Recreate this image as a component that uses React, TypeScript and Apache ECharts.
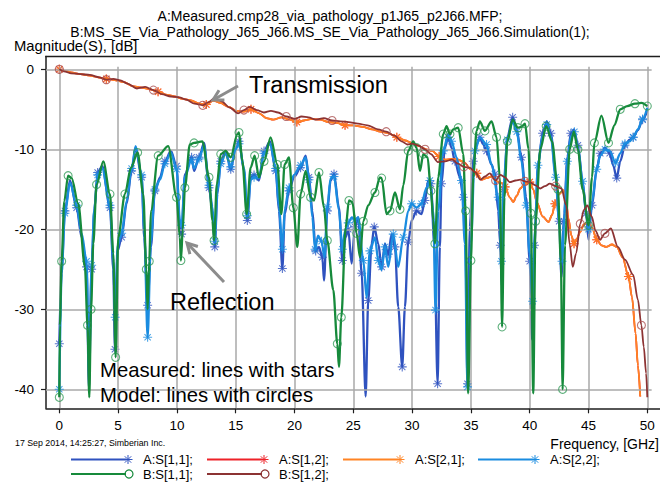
import { useEffect, useRef } from "react";
import * as echarts from "echarts";

const FONT = "'Liberation Sans', Arial, Helvetica, sans-serif";

const TITLE_A = "A:Measured.cmp28_via_pathology_p1J65_p2J66.MFP;";
const TITLE_B = "B:MS_SE_Via_Pathology_J65_J66.MS_SE_Via_Pathology_J65_J66.Simulation(1);";
const Y_NAME = "Magnitude(S), [dB]";
const X_NAME = "Frequency, [GHz]";
const FOOTER = "17 Sep 2014, 14:25:27, Simberian Inc.";

const X_TICKS = [0, 5, 10, 15, 20, 25, 30, 35, 40, 45, 50];
const Y_TICKS = [0, -10, -20, -30, -40];

const LEGEND_NAMES = ["A:S[1,1];", "A:S[1,2];", "A:S[2,1];", "A:S[2,2];", "B:S[1,1];", "B:S[1,2];"];

// A:S[1,1] measured reflection
const A_S11: [number, number][] = [
  [0, -34.3], [0.2, -25], [0.48, -17.7], [0.91, -13.9], [1.47, -17.3], [1.9, -21], [2.32, -24.7], [2.52, -40],
  [2.75, -25], [2.97, -17.7], [3.26, -12.9], [3.65, -12.1], [4.31, -17.3], [4.59, -25], [4.73, -35], [4.96, -22.7],
  [5.3, -21], [5.72, -16.8], [6.15, -12.7], [6.49, -9.8], [7.0, -13.5], [7.22, -21], [7.51, -29.5], [7.79, -22.2],
  [8.13, -15.2], [8.56, -13.5], [8.98, -11.5], [9.49, -10.2], [9.97, -12.1], [10.25, -19.8], [10.4, -20.6],
  [10.68, -13.1], [11.25, -11], [11.46, -12.7], [11.88, -11], [12.31, -9.2], [12.73, -14.8], [13.02, -17.7],
  [13.22, -22.2], [13.44, -15.6], [13.73, -11.5], [14.15, -10.2], [14.58, -12.5], [15.0, -9.8], [15.28, -9],
  [15.71, -12.7], [15.99, -18.9], [16.28, -13.5], [16.56, -13.2], [16.98, -13.9], [17.41, -10.2], [17.92, -9],
  [18.4, -12.7], [18.68, -17.7], [18.97, -24.9], [19.17, -18.1], [19.53, -15.2], [19.96, -13.5], [20.52, -12.3],
  [20.95, -10.8], [21.23, -13.5], [21.52, -17.7], [21.8, -22.7], [22.08, -22.2], [22.37, -23.5], [22.51, -26.4],
  [22.79, -17.7], [23.07, -13.9], [23.36, -13.1], [23.78, -17.3], [24.07, -23.9], [24.35, -21], [24.57, -20],
  [24.86, -24.3], [25.14, -19.7], [25.42, -18.5], [25.71, -25.5], [26.05, -40.9], [26.27, -28.9], [26.56, -21.8],
  [26.78, -19.7], [27.12, -21.8], [27.41, -24.7], [27.69, -21.8], [27.97, -23.1], [28.26, -20.6], [28.54, -22.2],
  [28.82, -29.7], [29.16, -37.2], [29.39, -29.7], [29.67, -21.6], [29.96, -18.9], [30.38, -17.7], [30.8, -18.1],
  [31.09, -16.4], [31.37, -13.9], [31.6, -14.3], [31.88, -21.8], [32.17, -39.3], [32.36, -22.2], [32.5, -14.3],
  [32.79, -9.8], [33.07, -8.5], [33.35, -9.8], [33.64, -11.5], [34.06, -13.5], [34.35, -16], [34.54, -21.8],
  [34.71, -39.3], [34.91, -19.7], [35.2, -11.5], [35.48, -9.4], [35.76, -8.5], [36.05, -9.4], [36.33, -10.2],
  [36.75, -11.9], [37.04, -13.1], [37.32, -17.7], [37.5, -22], [37.62, -27], [37.8, -15], [38.1, -8.5],
  [38.55, -6.0], [38.9, -7.5], [39.3, -11], [39.7, -16], [40.0, -24], [40.2, -33.8], [40.4, -22], [40.7, -12],
  [41.1, -8], [41.45, -6.5], [41.8, -8], [42.2, -13], [42.5, -19], [42.7, -26], [42.9, -19], [43.2, -11],
  [43.5, -8], [43.77, -7.5], [44.1, -9.5], [44.5, -14], [44.8, -18], [45.0, -21.3], [45.3, -17], [45.7, -12.5],
  [46.0, -10.5], [46.4, -9.8], [46.8, -10.5], [47.1, -12], [47.4, -13.6], [47.7, -11.5], [48.1, -9.5],
  [48.5, -8.8], [48.8, -8.5], [49.2, -7.6], [49.6, -6.3], [50.0, -5.2],
];

// A:S[2,1] measured transmission
const A_S21: [number, number][] = [
  [0, 0], [0.5, -0.2], [1.0, -0.4], [1.8, -0.6], [2.6, -0.8], [3.3, -1.0], [4.0, -1.2], [4.9, -1.4], [5.5, -1.6],
  [6.2, -2.1], [7.0, -2.3], [7.7, -2.5], [8.4, -2.8], [9.2, -3.2], [9.8, -3.4], [10.5, -3.7], [11.2, -3.9],
  [11.9, -4.3], [12.5, -4.4], [13.1, -3.9], [13.7, -4.2], [14.4, -4.7], [15.1, -5.2], [15.7, -5.3], [16.3, -5.0],
  [17.0, -5.5], [17.6, -6.1], [18.2, -6.3], [18.9, -6.0], [19.6, -6.3], [20.2, -6.6], [20.8, -6.4], [21.5, -6.2],
  [22.2, -6.3], [22.9, -6.6], [23.6, -6.7], [24.3, -7.0], [25.0, -7.0], [25.8, -7.2], [26.6, -7.5], [27.3, -7.8],
  [28.0, -8.0], [28.7, -8.5], [29.4, -8.9], [30.0, -9.2], [30.6, -9.6], [31.2, -10.0], [31.7, -10.2],
  [32.3, -10.9], [32.8, -11.3], [33.4, -11.2], [33.9, -11.3], [34.4, -11.6], [35.0, -12.5], [35.5, -13.0],
  [35.9, -13.8], [36.3, -13.6], [36.75, -13.4], [37.2, -14.0], [37.6, -14.2], [37.9, -14.7], [38.3, -16.0],
  [38.6, -16.6], [38.9, -15.8], [39.2, -14.9], [39.6, -14.3], [40.0, -14.1], [40.3, -15.0], [40.6, -16.6],
  [41.1, -18.4], [41.6, -19.1], [41.9, -18.2], [42.15, -16.8], [42.5, -15.6], [42.86, -15.1], [43.1, -16.5],
  [43.3, -18.7], [43.55, -20.8], [43.77, -21.8], [44.0, -21.2], [44.3, -20.3], [44.6, -19.4], [45.0, -19.0],
  [45.3, -19.8], [45.7, -21.3], [46.1, -22.0], [46.5, -22.2], [47.0, -21.9], [47.4, -22.2], [47.9, -23.5],
  [48.4, -25.9], [48.7, -28.5], [49.0, -33.0], [49.2, -37], [49.4, -40.9],
];

// A:S[1,2] measured transmission (reciprocal, overlaps S[2,1])
const A_S12: [number, number][] = A_S21.map(([f, v]) => [f, v]);

// A:S[2,2] measured reflection
const A_S22: [number, number][] = [
  [0, -40], [0.2, -25.5], [0.48, -18], [0.91, -14.2], [1.47, -17], [1.9, -20.5], [2.32, -24], [2.52, -38],
  [2.75, -24.5], [2.97, -17.5], [3.26, -13.2], [3.65, -12.4], [4.31, -17], [4.59, -24], [4.75, -31], [4.96, -22],
  [5.3, -20.5], [5.72, -16.5], [6.15, -12.4], [6.49, -9.6], [7.0, -13.2], [7.22, -20], [7.51, -33.5], [7.79, -21.5],
  [8.13, -15], [8.56, -13.8], [8.98, -11.8], [9.49, -10.4], [9.97, -12.5], [10.25, -18.8], [10.4, -19.5],
  [10.68, -13.4], [11.25, -11.3], [11.46, -12.4], [11.88, -11.2], [12.31, -9.5], [12.73, -14.5], [13.02, -17.2],
  [13.22, -21.5], [13.44, -15.3], [13.73, -11.8], [14.15, -10.5], [14.58, -12.2], [15.0, -10.0], [15.28, -9.3],
  [15.71, -12.4], [15.99, -18.3], [16.28, -13.8], [16.56, -13.5], [16.98, -13.6], [17.41, -10.5], [17.92, -9.3],
  [18.4, -12.4], [18.68, -17.2], [18.97, -22.5], [19.17, -17.5], [19.53, -14.8], [19.96, -13.2], [20.52, -12.0],
  [20.95, -11.0], [21.23, -13.8], [21.52, -18.5], [21.75, -22.5], [22.0, -20.8], [22.3, -21.5], [22.55, -23.5],
  [22.79, -17.2], [23.07, -13.6], [23.36, -13.4], [23.78, -17.6], [24.07, -22.5], [24.29, -20.2], [24.57, -19.2],
  [24.86, -18.5], [25.14, -18.8], [25.42, -18.5], [25.85, -23.9], [26.13, -28.5], [26.41, -22.7], [26.84, -21],
  [27.12, -23.9], [27.41, -25.1], [27.69, -22.2], [27.97, -24.7], [28.4, -20.6], [28.82, -24.7], [29.25, -21],
  [29.67, -17.7], [29.96, -16.8], [30.38, -17.3], [30.8, -16.8], [31.23, -14.8], [31.51, -13.9], [31.8, -17.7],
  [31.99, -30.1], [32.22, -17.7], [32.65, -10.2], [33.07, -8.1], [33.35, -9], [33.78, -11], [34.2, -13.9],
  [34.49, -21.8], [34.71, -39.7], [35.0, -21.8], [35.34, -10.2], [35.76, -8.5], [36.33, -9.4], [36.75, -11.9],
  [37.32, -16], [37.46, -19], [37.6, -24], [37.8, -14], [38.1, -8.8], [38.55, -6.5], [38.9, -7.8], [39.3, -11.5],
  [39.7, -17], [40.0, -23], [40.25, -29], [40.45, -20], [40.7, -12], [41.1, -8.3], [41.45, -6.9], [41.8, -8.4],
  [42.2, -13.5], [42.5, -19], [42.75, -24], [42.95, -18], [43.2, -11.5], [43.5, -8.4], [43.8, -7.8], [44.1, -9.8],
  [44.5, -14], [44.8, -18], [45.0, -20], [45.3, -16.5], [45.7, -12.5], [46.0, -10.8], [46.4, -10], [46.8, -10.2],
  [47.3, -11.7], [47.7, -10.5], [48.1, -9.3], [48.5, -9.0], [48.8, -8.5], [49.2, -7.5], [49.6, -6.2], [50.0, -4.8],
];

// B:S[1,1] model reflection
const B_S11: [number, number][] = [
  [0, -41], [0.05, -32], [0.2, -24], [0.42, -16.5], [0.75, -13.3], [1.05, -13.6], [1.61, -16.8], [2.18, -24.7],
  [2.4, -32], [2.55, -41], [2.7, -30], [2.89, -21.8], [3.17, -14.4], [3.74, -11.5], [4.31, -15.6], [4.59, -23],
  [4.79, -36], [5.01, -21], [5.58, -15.6], [6.09, -12.3], [6.66, -10.4], [7.14, -15.6], [7.4, -25], [7.51, -30],
  [7.65, -24], [7.79, -17.7], [8.41, -10.8], [9.26, -9.6], [9.97, -16], [10.25, -21], [10.34, -23.9], [10.5, -20],
  [10.68, -14.8], [11.1, -9.4], [11.46, -9.2], [12.17, -9], [12.73, -13.5], [13.02, -18.9], [13.16, -21.4],
  [13.39, -14.4], [13.73, -10.6], [14.15, -10.2], [14.58, -11], [15.14, -8.1], [15.28, -7.9], [15.57, -11.5],
  [15.93, -18.1], [16.27, -12.3], [16.61, -10.8], [16.98, -13.5], [17.41, -11.5], [17.97, -8.5], [18.54, -11.9],
  [18.88, -18.1], [19.16, -11.9], [19.53, -11], [19.9, -17.3], [20.24, -22.2], [20.52, -15.6], [20.95, -12.7],
  [21.37, -16], [21.66, -16.4], [22.08, -12.9], [22.51, -17.3], [22.79, -21.4], [23.3, -27.6], [23.64, -34.3],
  [23.78, -37.2], [23.98, -31], [24.35, -19.8], [24.63, -16.4], [24.92, -16.6], [25.28, -20.5], [25.57, -23.5],
  [25.85, -19], [26.27, -17], [26.84, -15.4], [27.27, -13.5], [27.41, -13.6], [27.83, -18.1], [28.12, -17.7],
  [28.54, -15.4], [28.97, -17.5], [29.25, -14.5], [29.67, -10.2], [30.1, -9], [30.38, -9.8], [30.67, -12.7],
  [30.95, -10.6], [31.32, -11], [31.6, -15.2], [31.8, -18.9], [31.94, -21.8], [32.22, -13.5], [32.65, -8.1],
  [32.93, -7.1], [33.22, -8.1], [33.5, -7.5], [33.92, -7.3], [34.35, -10.6], [34.55, -17.7], [34.77, -40.5],
  [35, -23.9], [35.2, -13.5], [35.48, -7.7], [35.76, -6.5], [36.19, -7.7], [36.76, -6.5], [37.18, -8.5],
  [37.46, -13.5], [37.65, -32.2], [37.85, -16], [38.1, -9], [38.55, -6.3], [39.0, -7.3], [39.3, -7.2], [39.6, -6.8],
  [39.9, -10], [40.1, -18], [40.3, -40.5], [40.5, -19], [40.9, -10], [41.4, -7.1], [41.9, -9], [42.4, -15],
  [42.65, -24], [42.8, -40], [43.0, -22], [43.4, -10], [43.75, -7.8], [44.1, -10], [44.5, -15], [45.0, -19.5],
  [45.3, -13.5], [45.5, -9.2], [46.1, -5.8], [46.7, -9.2], [47.2, -7], [47.7, -5.0], [48.3, -4.6], [48.95, -4.3],
  [49.5, -4.2], [50.0, -4.6],
];

// B:S[1,2] model transmission
const B_S12: [number, number][] = [
  [0, 0], [0.5, -0.3], [1.0, -0.5], [1.8, -0.6], [2.6, -0.7], [3.4, -1.0], [4.0, -1.3], [4.6, -1.2], [5.2, -1.4],
  [5.8, -1.8], [6.6, -2.4], [7.3, -2.2], [8.0, -2.6], [8.7, -3.1], [9.5, -3.4], [10.2, -3.5], [10.8, -3.8],
  [11.5, -4.3], [12.2, -4.5], [12.7, -4.1], [13.2, -3.6], [13.8, -4.0], [14.5, -4.8], [15.2, -5.5], [15.7, -5.1],
  [16.2, -4.7], [16.8, -5.1], [17.4, -5.4], [18.0, -5.2], [18.6, -5.4], [19.3, -5.9], [20.0, -6.2], [20.6, -5.9],
  [21.2, -6.0], [21.8, -6.3], [22.5, -6.1], [23.2, -6.4], [23.9, -6.5], [24.6, -6.6], [25.4, -6.8], [26.2, -7.0],
  [27.1, -7.5], [27.8, -7.8], [28.5, -8.3], [29.1, -9.0], [29.6, -9.4], [30.0, -9.3], [30.5, -9.5], [31.1, -10.0],
  [31.6, -10.6], [32.2, -11.6], [32.8, -11.5], [33.4, -11.3], [33.9, -11.8], [34.4, -12.2], [34.9, -12.3],
  [35.4, -12.9], [35.8, -13.8], [36.2, -13.4], [36.6, -13.0], [37.1, -13.9], [37.5, -13.2], [37.9, -13.5],
  [38.3, -14.1], [38.8, -13.9], [39.2, -13.8], [39.6, -14.0], [40.0, -14.1], [40.5, -14.5], [40.9, -14.9],
  [41.3, -14.6], [41.7, -14.3], [42.2, -14.6], [42.7, -14.9], [43.1, -17.0], [43.4, -21.9], [43.66, -24.7],
  [43.95, -23.0], [44.3, -19.3], [44.6, -17.6], [44.9, -17.0], [45.27, -18.4], [45.6, -20.2], [45.98, -21.3],
  [46.4, -20.5], [46.9, -19.9], [47.5, -22.2], [48.1, -23.8], [48.8, -25.7], [49.2, -28.8], [49.5, -32],
  [49.7, -34.7], [49.9, -38], [50.0, -41],
];

const COLORS = {
  a11: "#2f52bf",
  a12: "#ee2229",
  a21: "#ff8424",
  a22: "#1a8ce0",
  b11: "#168a3b",
  b12: "#8c3333",
};

const STAR =
  "path://M-0.6,-5L0.6,-5L0.6,5L-0.6,5Z M-5,-0.6L5,-0.6L5,0.6L-5,0.6Z M-3.9,-3.1L-3.1,-3.9L3.9,3.1L3.1,3.9Z M3.1,-3.9L3.9,-3.1L-3.1,3.9L-3.9,3.1Z";

// plot geometry (px)
const GRID_LEFT = 46;
const GRID_TOP = 56.5;
const GRID_W = 614;
const GRID_H = 351.8;
const X_MIN = -1.131;
const X_MAX = 51.08;
const Y_MAX = 1.6;
const Y_MIN = -42.375;
const GRID_X_END = 50.37;
const GRID_Y_END = 0.33;

function lineSeries(
  name: string,
  data: [number, number][],
  color: string,
  marker: "star" | "circle",
  markerColor: string,
  every: number,
  width: number,
  z: number
) {
  return {
    type: "line",
    name,
    z,
    data: data.map((p, i) => ({
      value: p,
      symbol: i % every === 0 ? (marker === "star" ? STAR : "circle") : "none",
    })),
    showSymbol: true,
    showAllSymbol: true,
    symbolSize: marker === "star" ? 9 : 8,
    smooth: 0.3,
    smoothMonotone: "x",
    lineStyle: { color, width },
    itemStyle:
      marker === "star"
        ? { color: markerColor, borderWidth: 0 }
        : { color: "rgba(0,0,0,0)", borderColor: markerColor, borderWidth: 1.1 },
    emphasis: { disabled: true },
    silent: true,
  };
}

function starShape(cx: number, cy: number, color: string) {
  const r = 4.5;
  const d = 3.2;
  const segs = [
    [0, -r, 0, r],
    [-r, 0, r, 0],
    [-d, -d, d, d],
    [d, -d, -d, d],
  ];
  return segs.map((s) => ({
    type: "line",
    z: 100,
    shape: { x1: cx + s[0], y1: cy + s[1], x2: cx + s[2], y2: cy + s[3] },
    style: { stroke: color, lineWidth: 1 },
    silent: true,
  }));
}

function legendItem(x: number, y: number, label: string, color: string, marker: "star" | "circle") {
  const els: any[] = [
    {
      type: "line",
      z: 100,
      shape: { x1: x, y1: y, x2: x + 55, y2: y },
      style: { stroke: color, lineWidth: 2 },
      silent: true,
    },
  ];
  if (marker === "star") {
    els.push(...starShape(x + 57, y, color));
  } else {
    els.push({
      type: "circle",
      z: 100,
      shape: { cx: x + 58, cy: y, r: 4 },
      style: { stroke: color, fill: "none", lineWidth: 1.2 },
      silent: true,
    });
  }
  els.push({
    type: "text",
    z: 100,
    x: x + 72,
    y,
    style: { text: label, fontSize: 13, fontFamily: FONT, fill: "#000", textVerticalAlign: "middle" },
    silent: true,
  });
  return els;
}

function arrow(x1: number, y1: number, x2: number, y2: number) {
  const dx = x2 - x1;
  const dy = y2 - y1;
  const len = Math.hypot(dx, dy);
  const ux = dx / len;
  const uy = dy / len;
  const bx = x2 - ux * 10;
  const by = y2 - uy * 10;
  const nx = -uy * 5.5;
  const ny = ux * 5.5;
  return [
    {
      type: "line",
      z: 100,
      shape: { x1, y1, x2: x2 - ux * 1.5, y2: y2 - uy * 1.5 },
      style: { stroke: "#8c8c8c", lineWidth: 3 },
      silent: true,
    },
    {
      type: "polyline",
      z: 100,
      shape: { points: [[bx + nx, by + ny], [x2, y2], [bx - nx, by - ny]] },
      style: { stroke: "#8c8c8c", lineWidth: 3, fill: "none" },
      silent: true,
    },
  ];
}

function text(x: number, y: number, str: string, size: number, align: string = "left") {
  return {
    type: "text",
    z: 100,
    x,
    y,
    style: {
      text: str,
      fontSize: size,
      fontFamily: FONT,
      fill: "#000",
      textAlign: align,
      textVerticalAlign: "middle",
    },
    silent: true,
  };
}

export default function App() {
  const ref = useRef<HTMLDivElement>(null);

  useEffect(() => {
    if (!ref.current) return;
    const chart = echarts.init(ref.current, null, { renderer: "svg" });

    const gridLines: any[] = [];
    Y_TICKS.forEach((v) => gridLines.push([{ coord: [X_MIN, v] }, { coord: [GRID_X_END, v] }]));
    X_TICKS.forEach((v) => gridLines.push([{ coord: [v, Y_MIN] }, { coord: [v, GRID_Y_END] }]));

    const legendX = [71, 207, 343, 478];
    const row1 = 459.5;
    const row2 = 474;

    const option: any = {
      animation: false,
      backgroundColor: "#fff",
      textStyle: { fontFamily: FONT },
      grid: {
        left: GRID_LEFT,
        top: GRID_TOP,
        width: GRID_W,
        height: GRID_H,
        show: false,
      },
      xAxis: {
        type: "value",
        min: X_MIN,
        max: X_MAX,
        axisLine: { show: true, onZero: false, lineStyle: { color: "#1e1e1e", width: 1.5 } },
        axisTick: { show: true, customValues: X_TICKS, length: 5, lineStyle: { color: "#1e1e1e", width: 1.2 } },
        axisLabel: { customValues: X_TICKS, margin: 10, fontSize: 13.5, color: "#000", fontFamily: FONT },
        splitLine: { show: false },
      },
      yAxis: {
        type: "value",
        min: Y_MIN,
        max: Y_MAX,
        axisLine: { show: true, onZero: false, lineStyle: { color: "#1e1e1e", width: 1.5 } },
        axisTick: { show: true, customValues: Y_TICKS, length: 5, lineStyle: { color: "#1e1e1e", width: 1.2 } },
        axisLabel: { customValues: Y_TICKS, margin: 12, fontSize: 13.5, color: "#000", fontFamily: FONT },
        splitLine: { show: false },
      },
      series: [
        {
          type: "line",
          name: "grid",
          data: [],
          z: 1,
          silent: true,
          markLine: {
            silent: true,
            symbol: ["none", "none"],
            label: { show: false },
            lineStyle: { color: "#a9a9a9", width: 1.5, type: "solid" },
            emphasis: { disabled: true },
            data: gridLines,
          },
        },
        lineSeries("A:S[1,1]", A_S11, COLORS.a11, "star", "rgba(47,82,191,0.8)", 2, 2.3, 2),
        lineSeries("A:S[1,2]", A_S12, COLORS.a12, "star", "rgba(238,34,41,0.8)", 6, 1.8, 3),
        lineSeries("A:S[2,1]", A_S21, COLORS.a21, "star", "rgba(255,120,30,0.85)", 6, 1.8, 4),
        lineSeries("A:S[2,2]", A_S22, COLORS.a22, "star", "rgba(26,140,224,0.8)", 2, 2.3, 5),
        lineSeries("B:S[1,1]", B_S11, COLORS.b11, "circle", "rgba(40,150,80,0.75)", 2, 2.3, 6),
        lineSeries("B:S[1,2]", B_S12, COLORS.b12, "circle", "rgba(170,80,80,0.8)", 6, 1.8, 7),
      ],
      graphic: [
        {
          type: "line",
          z: 100,
          shape: { x1: GRID_LEFT - 0.75, y1: GRID_TOP, x2: 660, y2: GRID_TOP },
          style: { stroke: "#1e1e1e", lineWidth: 1.5 },
          silent: true,
        },
        text(330, 16, TITLE_A, 14, "center"),
        text(330, 31.5, TITLE_B, 14, "center"),
        text(14, 46, Y_NAME, 14.8),
        text(249, 85, "Transmission", 23.5),
        text(170, 301.5, "Reflection", 23.5),
        text(100, 370, "Measured: lines with stars", 20.3),
        text(100, 394.5, "Model: lines with circles", 20.3),
        text(15, 443, FOOTER, 8.8),
        text(659, 444, X_NAME, 14, "right"),
        ...arrow(238, 86, 213, 100),
        ...arrow(224, 282, 187, 243),
        ...legendItem(legendX[0], row1, LEGEND_NAMES[0], COLORS.a11, "star"),
        ...legendItem(legendX[1], row1, LEGEND_NAMES[1], COLORS.a12, "star"),
        ...legendItem(legendX[2], row1, LEGEND_NAMES[2], COLORS.a21, "star"),
        ...legendItem(legendX[3], row1, LEGEND_NAMES[3], COLORS.a22, "star"),
        ...legendItem(legendX[0], row2, LEGEND_NAMES[4], COLORS.b11, "circle"),
        ...legendItem(legendX[1], row2, LEGEND_NAMES[5], COLORS.b12, "circle"),
      ],
    };

    chart.setOption(option);
    return () => chart.dispose();
  }, []);

  return (
    <div
      ref={ref}
      style={{ position: "absolute", left: 0, top: 0, width: 660, height: 482, background: "#fff" }}
    />
  );
}
